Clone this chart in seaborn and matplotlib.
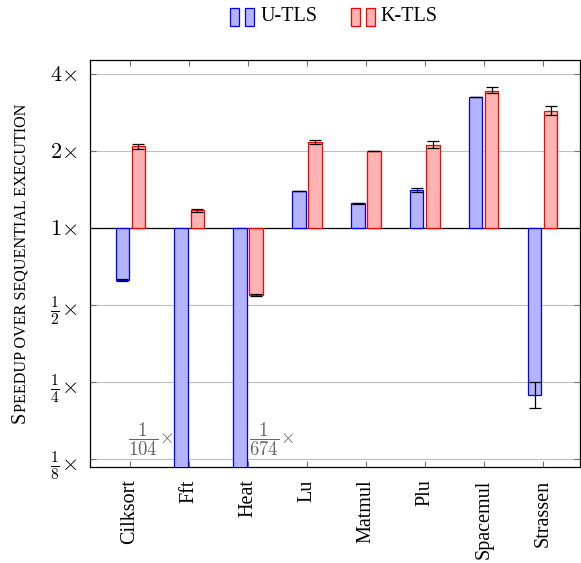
import numpy as np
import pandas as pd
import matplotlib
matplotlib.use("Agg")
import matplotlib.pyplot as plt
import seaborn as sns
from matplotlib.patches import Rectangle
from matplotlib.legend_handler import HandlerBase

# Speedup of each benchmark over sequential execution
benchmarks = ["Cilksort", "Fft", "Heat", "Lu", "Matmul", "Plu", "Spacemul", "Strassen"]
configs = ["U-TLS", "K-TLS"]

u_tls = [0.626, 1 / 104, 1 / 674, 1.395, 1.25, 1.41, 3.25, 0.222]
u_tls_low = [0.622, 1 / 104, 1 / 674, 1.39, 1.245, 1.38, 3.24, 0.198]
u_tls_high = [0.630, 1 / 104, 1 / 674, 1.40, 1.255, 1.43, 3.26, 0.250]

k_tls = [2.09, 1.176, 0.547, 2.17, 2.0, 2.11, 3.43, 2.87]
k_tls_low = [2.04, 1.16, 0.543, 2.13, 1.995, 2.05, 3.37, 2.76]
k_tls_high = [2.13, 1.19, 0.551, 2.21, 2.005, 2.19, 3.55, 2.99]

y_ticks = [4, 2, 1, 1 / 2, 1 / 4, 1 / 8]
y_tick_labels = [r"$4\!\times$", r"$2\!\times$", r"$1\!\times$",
                 r"$\frac{1}{2}\!\times$", r"$\frac{1}{4}\!\times$", r"$\frac{1}{8}\!\times$"]

plt.rcParams["font.family"] = ["Liberation Serif", "DejaVu Serif"]
plt.rcParams["mathtext.fontset"] = "cm"

fill_colors = {"U-TLS": (0.7, 0.7, 1.0), "K-TLS": (1.0, 0.7, 0.7)}
edge_colors = {"U-TLS": (0.0, 0.0, 1.0), "K-TLS": (1.0, 0.0, 0.0)}

df = pd.DataFrame({
    "benchmark": benchmarks * 2,
    "config": [configs[0]] * len(benchmarks) + [configs[1]] * len(benchmarks),
    "speedup": u_tls + k_tls,
})
# bars grow up or down from 1x on a base-2 logarithmic axis
df["log2_speedup"] = np.log2(df["speedup"])

fig = plt.figure(figsize=(5.81, 5.63), dpi=100)
ax = fig.add_axes([90 / 581, 1 - 467 / 563, 490 / 581, 407 / 563])

sns.barplot(data=df, x="benchmark", y="log2_speedup", hue="config",
            order=benchmarks, hue_order=configs, palette=fill_colors,
            saturation=1, width=0.544, gap=0.18, errorbar=None,
            legend=False, linewidth=0.9, ax=ax, zorder=3)

ylim = (-3.10, 2.18)
ax.set_ylim(*ylim)
ax.set_xlim(-0.68, 7.63)

series = {"U-TLS": (u_tls, u_tls_low, u_tls_high),
          "K-TLS": (k_tls, k_tls_low, k_tls_high)}
for cfg, container in zip(configs, ax.containers):
    vals, lo, hi = (np.array(a) for a in series[cfg])
    for bar in container:
        bar.set_edgecolor(edge_colors[cfg])
        bar.set_linewidth(0.9)
    xs = [b.get_x() + b.get_width() / 2 for b in container]
    y = np.log2(vals)
    yerr = [y - np.log2(lo), np.log2(hi) - y]
    ax.errorbar(xs, y, yerr=yerr, fmt="none", ecolor="black",
                elinewidth=0.9, capsize=4, capthick=0.9, zorder=4)

# values beyond the bottom of the axis get a written label
u_bars = list(ax.containers[0])
off_scale = [(i, v) for i, v in enumerate(u_tls) if np.log2(v) < ylim[0]]
for k, (i, v) in enumerate(off_scale):
    bar = u_bars[i]
    label = r"$\dfrac{1}{%d}\!\times$" % round(1 / v)
    if k == 0:
        ax.annotate(label, xy=(bar.get_x(), -2.74), xytext=(-2, 0),
                    textcoords="offset pixels", ha="right", va="center",
                    color="0.4", fontsize=13.5)
    else:
        ax.annotate(label, xy=(bar.get_x() + bar.get_width(), -2.74),
                    xytext=(2, 0), textcoords="offset pixels", ha="left",
                    va="center", color="0.4", fontsize=13.5)

ax.axhline(0, color="black", linewidth=0.9, zorder=2)
ax.set_yticks(np.log2(y_ticks))
ax.set_yticklabels(y_tick_labels, fontsize=16)
ax.yaxis.grid(True, color="0.75", linewidth=0.8)
ax.set_axisbelow(True)
ax.tick_params(axis="y", direction="in", left=True, right=True, length=4,
               color="0.45", pad=9)
ax.tick_params(axis="x", direction="in", bottom=True, top=True, length=4,
               color="0.45", pad=9, labelsize=14.5, labelrotation=90)
ax.set_xlabel("")
ax.set_ylabel("")
for s in ax.spines.values():
    s.set_linewidth(0.9)
    s.set_color("black")


class PairedBarHandler(HandlerBase):
    def __init__(self, face, edge):
        super().__init__()
        self.face, self.edge = face, edge

    def create_artists(self, legend, orig_handle, xdescent, ydescent,
                       width, height, fontsize, trans):
        w = width * 0.375
        x0 = -xdescent
        y0 = -ydescent - 0.15 * height
        arts = []
        for x in (x0, x0 + width - w):
            r = Rectangle((x, y0), w, height, facecolor=self.face,
                          edgecolor=self.edge, linewidth=0.9, transform=trans)
            arts.append(r)
        return arts


handles = [Rectangle((0, 0), 1, 1) for _ in configs]
fig.legend(handles, configs, loc="center", bbox_to_anchor=(0.575, 0.972),
           ncol=2, frameon=False, fontsize=14.5, handlelength=1.2,
           handleheight=1.0, handletextpad=0.3, columnspacing=1.65,
           handler_map={h: PairedBarHandler(fill_colors[c], edge_colors[c])
                        for h, c in zip(handles, configs)})

# small-caps axis title
renderer = fig.canvas.get_renderer()
cap = fig.text(0, 0, "S", fontsize=14.5, rotation=90,
               rotation_mode="anchor", ha="left", va="baseline")
rest = fig.text(0, 0, "PEEDUP OVER SEQUENTIAL EXECUTION", fontsize=11.6,
                rotation=90, rotation_mode="anchor", ha="left", va="baseline")
h_cap = cap.get_window_extent(renderer).height
h_rest = rest.get_window_extent(renderer).height
total = h_cap + h_rest
center_px = (1 - (60 + 467) / 2 / 563) * fig.bbox.height
start = center_px - total / 2
x_px = 25
cap.set_position((x_px / fig.bbox.width, start / fig.bbox.height))
rest.set_position((x_px / fig.bbox.width, (start + h_cap + 0.5) / fig.bbox.height))

fig.savefig("out.png", dpi=100)
